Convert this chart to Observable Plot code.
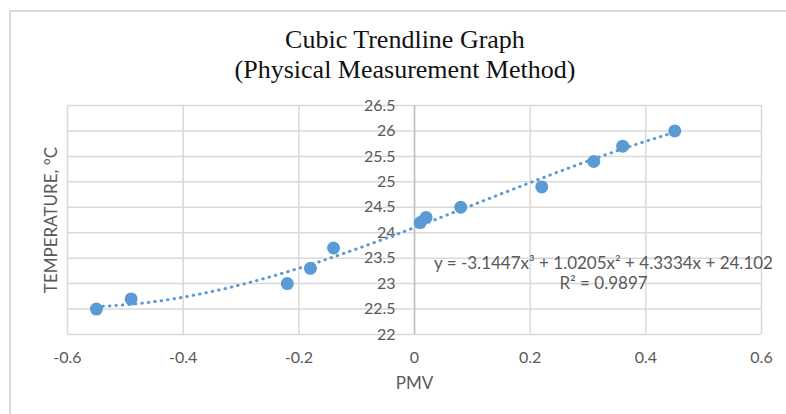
<!DOCTYPE html>
<html>
<head>
<meta charset="utf-8">
<script src="https://cdn.jsdelivr.net/npm/d3@7"></script>
<script src="https://cdn.jsdelivr.net/npm/@observablehq/plot@0.6"></script>
<style>
  body { margin: 0; background: #fff; }
  #wrap { position: relative; width: 786px; height: 414px; overflow: hidden; background: #fff; }
  #frame { position: absolute; left: 9px; top: 10px; width: 790px; height: 420px; border-top: 2px solid #d9d9d9; border-left: 2px solid #d9d9d9; }
  #title { position: absolute; left: 0; width: 810px; top: 25px; text-align: center; font-family: "Liberation Serif", serif; font-size: 26px; line-height: 30px; color: #111; }
  #chart { position: absolute; left: 0; top: 0; }
</style>
</head>
<body>
<div id="wrap">
  <div id="frame"></div>
  <div id="chart"></div>
  <div id="title">Cubic Trendline Graph<br>(Physical Measurement Method)</div>
</div>
<script>
const pmv = [-0.55, -0.49, -0.22, -0.18, -0.14, 0.01, 0.02, 0.08, 0.22, 0.31, 0.36, 0.45];
const temperature = [22.5, 22.7, 23.0, 23.3, 23.7, 24.2, 24.3, 24.5, 24.9, 25.4, 25.7, 26.0];
const trendCoefficients = [-3.1447, 1.0205, 4.3334, 24.102]; // x^3, x^2, x, const (shown on chart)
const xTicks = [-0.6, -0.4, -0.2, 0, 0.2, 0.4, 0.6];
const yTicks = [22, 22.5, 23, 23.5, 24, 24.5, 25, 25.5, 26, 26.5];
const equationLabel = "y = -3.1447x³ + 1.0205x² + 4.3334x + 24.102";
const r2Label = "R² = 0.9897";
const xLabel = "PMV";
const yLabel = "TEMPERATURE, °C";

const points = pmv.map((x, i) => ({x, y: temperature[i]}));
const [a, b, c, d] = trendCoefficients;
const xmin = d3.min(pmv), xmax = d3.max(pmv);
const trend = d3.range(0, 101).map(i => {
  const x = xmin + (xmax - xmin) * i / 100;
  return {x, y: a * x ** 3 + b * x ** 2 + c * x + d};
});

const font = "Lato, 'Liberation Sans', sans-serif";
const gray = "#595959";

const plot = Plot.plot({
  width: 786,
  height: 414,
  marginLeft: 67,
  marginRight: 25,
  marginTop: 105,
  marginBottom: 80,
  style: {fontFamily: font, background: "transparent", overflow: "visible"},
  x: {domain: [-0.6, 0.6], ticks: xTicks, axis: null},
  y: {domain: [22, 26.5], ticks: yTicks, axis: null},
  marks: [
    Plot.gridX(xTicks, {stroke: "#d9d9d9", strokeOpacity: 1, strokeWidth: 1.5}),
    Plot.gridY(yTicks, {stroke: "#d9d9d9", strokeOpacity: 1, strokeWidth: 1.5}),
    Plot.ruleX([0], {stroke: "#bfbfbf", strokeWidth: 1.5}),
    Plot.text(xTicks, {x: d => d, frameAnchor: "bottom", lineAnchor: "middle", dy: 23, text: d => String(d), fontSize: 16, fill: gray}),
    Plot.text(yTicks, {x: () => 0, y: d => d, text: d => String(d), textAnchor: "end", lineAnchor: "middle", dx: -19, fontSize: 16, fill: gray}),
    Plot.text([xLabel], {frameAnchor: "bottom", lineAnchor: "middle", textAnchor: "middle", dy: 49, fontSize: 17, fill: gray}),
    Plot.text([yLabel], {frameAnchor: "left", textAnchor: "middle", lineAnchor: "middle", dx: -16, rotate: -90, fontSize: 17, fill: gray}),
    Plot.line(trend, {x: "x", y: "y", stroke: "#5b9bd5", strokeWidth: 3, strokeDasharray: "0.5,6", strokeLinecap: "round"}),
    Plot.dot(points, {x: "x", y: "y", r: 6.5, fill: "#5b9bd5", stroke: "none"}),
    Plot.text([equationLabel], {frameAnchor: "top-left", lineAnchor: "middle", dx: 536, dy: 158, fontSize: 17, fill: gray, textAnchor: "middle"}),
    Plot.text([r2Label], {frameAnchor: "top-left", lineAnchor: "middle", dx: 536, dy: 178, fontSize: 17, fill: gray, textAnchor: "middle"})
  ]
});
document.getElementById("chart").appendChild(plot);
</script>
</body>
</html>
